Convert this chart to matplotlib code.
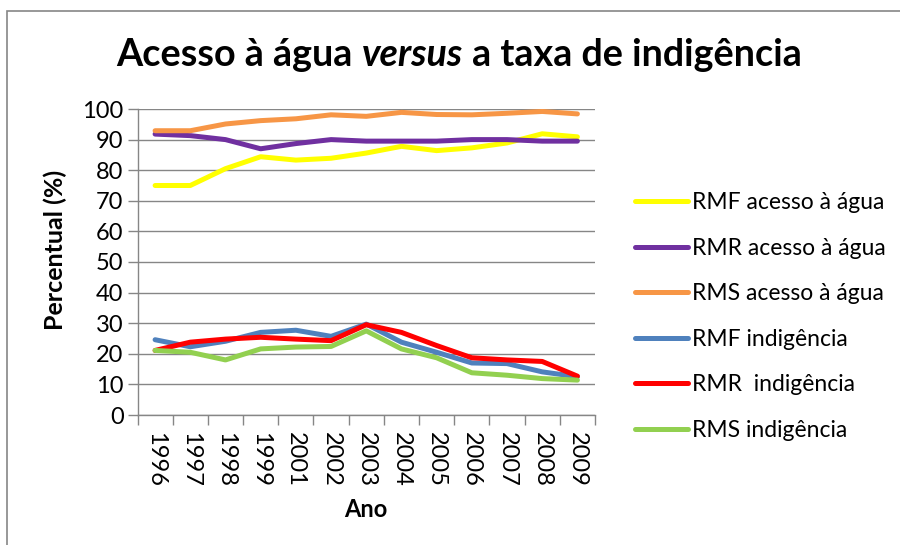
import matplotlib
matplotlib.use("Agg")
import matplotlib.pyplot as plt
from matplotlib.patches import Rectangle
from matplotlib.ticker import FixedLocator, MultipleLocator

plt.rcParams["font.family"] = ["Lato", "DejaVu Sans"]

# %% data
years = ["1996", "1997", "1998", "1999", "2001", "2002", "2003",
         "2004", "2005", "2006", "2007", "2008", "2009"]
rmf_agua = [75.0, 75.0, 80.5, 84.4, 83.3, 83.9, 85.6, 87.8, 86.4, 87.3, 88.9, 91.9, 90.9]
rmr_agua = [91.8, 91.3, 90.0, 87.0, 88.7, 90.0, 89.5, 89.5, 89.5, 90.0, 90.0, 89.5, 89.5]
rms_agua = [92.9, 92.9, 95.1, 96.2, 96.8, 98.1, 97.6, 98.9, 98.2, 98.1, 98.6, 99.2, 98.4]
rmf_ind = [24.6, 22.3, 24.1, 27.0, 27.7, 25.7, 29.7, 23.8, 20.5, 17.0, 16.8, 14.1, 12.5]
rmr_ind = [21.1, 23.8, 24.8, 25.4, 24.8, 24.3, 29.5, 27.0, 22.7, 18.7, 18.0, 17.5, 12.7]
rms_ind = [21.1, 20.5, 18.0, 21.6, 22.2, 22.4, 27.5, 21.6, 18.7, 13.8, 13.0, 11.9, 11.4]

series = [
    ("RMF acesso à água", rmf_agua, "#FFFF00"),
    ("RMR acesso à água", rmr_agua, "#7030A0"),
    ("RMS acesso à água", rms_agua, "#F79646"),
    ("RMF indigência", rmf_ind, "#4F81BD"),
    ("RMR  indigência", rmr_ind, "#FF0000"),
    ("RMS indigência", rms_ind, "#92D050"),
]

# %% plot
fig = plt.figure(figsize=(9, 5.45), dpi=100)
ax = fig.add_axes([137.5 / 900, 1 - 415 / 545, (595 - 137.5) / 900, (415 - 109) / 545])

x = list(range(len(years)))
for label, vals, color in series:
    ax.plot(x, vals, color=color, lw=3.6, label=label, solid_capstyle="round")

grey = "#868686"
ax.set_ylim(0, 100)
ax.set_xlim(-0.5, len(years) - 0.5)
ax.yaxis.set_major_locator(MultipleLocator(10))
ax.grid(axis="y", color=grey, lw=1)
ax.set_axisbelow(True)
for s in ["top", "right"]:
    ax.spines[s].set_visible(False)
for s in ["left", "bottom"]:
    ax.spines[s].set_color(grey)
    ax.spines[s].set_linewidth(1)

ax.xaxis.set_major_locator(FixedLocator([i - 0.5 for i in range(len(years) + 1)]))
ax.xaxis.set_minor_locator(FixedLocator(x))
ax.set_xticklabels([])
ax.set_xticklabels(years, minor=True, rotation=-90, fontsize=17)
ax.tick_params(axis="x", which="major", length=7, color=grey, width=1)
ax.tick_params(axis="x", which="minor", length=0, pad=12)
ax.tick_params(axis="y", length=7, color=grey, width=1, labelsize=17, pad=3)

ax.set_ylabel("Percentual (%)", fontsize=18, fontweight="bold")
ax.yaxis.set_label_coords(-0.154, 0.539)
ax.set_xlabel("Ano", fontsize=17, fontweight="bold")
ax.xaxis.set_label_coords(0.5, -0.272)

# title with italic "versus"
renderer = fig.canvas.get_renderer()
parts = [("Acesso à água ", "normal"), ("versus", "italic"), (" a taxa de indigência", "normal")]
tx = 116
for s, style in parts:
    t = fig.text(tx / 900, 1 - 66 / 545, s, ha="left", va="baseline",
                 fontsize=27.2, fontweight="bold", fontstyle=style)
    tx += t.get_window_extent(renderer).width

ax.legend(loc="center left", bbox_to_anchor=(1.087, 0.322), frameon=False,
          fontsize=16.5, handlelength=2.3, handletextpad=0.2, labelspacing=1.07,
          borderaxespad=0, borderpad=0)

fig.patches.append(Rectangle((7 / 900, -0.1), 1.2, 1 - 10.5 / 545 + 0.1,
                             transform=fig.transFigure, fill=False,
                             edgecolor=grey, lw=1.2))

fig.savefig("out.png", dpi=100)
